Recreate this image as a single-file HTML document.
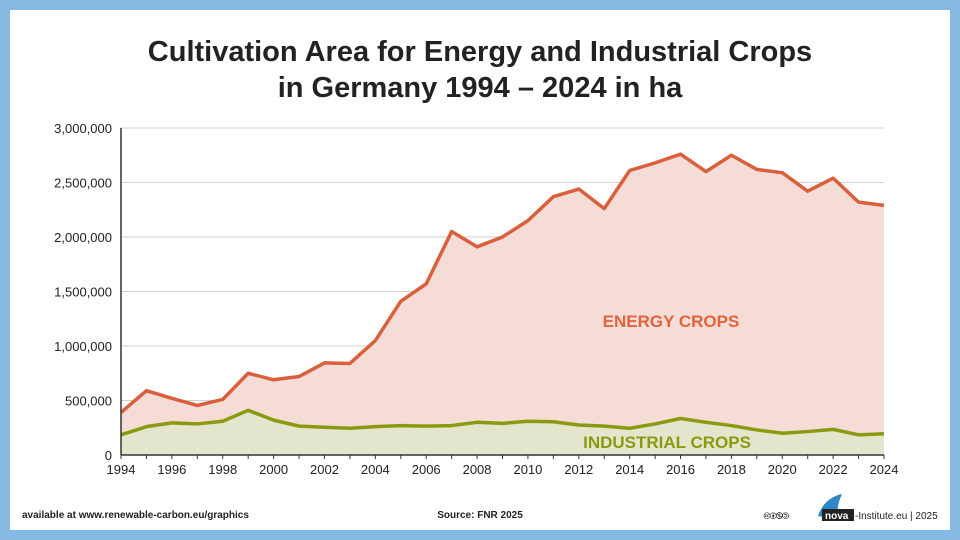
<!DOCTYPE html>
<html><head><meta charset="utf-8"><style>
body{margin:0;width:960px;height:540px;background:#85b8e3;font-family:"Liberation Sans",sans-serif;overflow:hidden}
#panel{position:absolute;left:10px;top:10px;width:940px;height:520px;background:#fff}
</style></head><body>
<div id="panel"></div>
<svg width="960" height="540" style="position:absolute;left:0;top:0">
<text x="480" y="61" text-anchor="middle" font-size="29" font-weight="bold" fill="#222">Cultivation Area for Energy and Industrial Crops</text>
<text x="480" y="97" text-anchor="middle" font-size="29" font-weight="bold" fill="#222">in Germany 1994 – 2024 in ha</text>
<g id="grid"></g><g id="areas"></g><g id="lines"></g><g id="axes"></g>
<text x="671" y="327" text-anchor="middle" font-size="17" font-weight="bold" fill="#e0643c">ENERGY CROPS</text>
<text x="667" y="448" text-anchor="middle" font-size="17" font-weight="bold" fill="#8a9a10">INDUSTRIAL CROPS</text>
<text x="22" y="518" font-size="10" font-weight="bold" fill="#222">available at www.renewable-carbon.eu/graphics</text>
<text x="480" y="518" text-anchor="middle" font-size="10" font-weight="bold" fill="#222">Source: FNR 2025</text>
<text x="764" y="519" font-size="10" fill="#222">🅭🅯🄏🄎</text>
<path d="M818 516 Q824 498 842 494 Q836 506 838 520 Z" fill="#2e86c8"/>
<rect x="822" y="509" width="32" height="12" fill="#222"/>
<text x="825" y="519" font-size="10" font-weight="bold" fill="#fff">nova</text>
<text x="855" y="519" font-size="10" fill="#222">-Institute.eu | 2025</text>
</svg>
<script>
const years=[1994,1995,1996,1997,1998,1999,2000,2001,2002,2003,2004,2005,2006,2007,2008,2009,2010,2011,2012,2013,2014,2015,2016,2017,2018,2019,2020,2021,2022,2023,2024];
const energy=[390000,590000,520000,455000,510000,750000,690000,720000,845000,840000,1050000,1410000,1570000,2050000,1910000,2000000,2150000,2370000,2440000,2260000,2610000,2680000,2760000,2600000,2750000,2620000,2590000,2420000,2540000,2320000,2290000];
const industrial=[185000,260000,295000,285000,310000,410000,320000,265000,255000,245000,260000,270000,265000,270000,300000,290000,310000,305000,275000,265000,245000,285000,335000,300000,270000,230000,200000,215000,235000,185000,195000];
const yTicks=[0,500000,1000000,1500000,2000000,2500000,3000000];
const yTickLabels=["0","500,000","1,000,000","1,500,000","2,000,000","2,500,000","3,000,000"];
const xTicks=[1994,1996,1998,2000,2002,2004,2006,2008,2010,2012,2014,2016,2018,2020,2022,2024];
const NS="http://www.w3.org/2000/svg";
const X0=121,X1=884,Y0=455,Y1=128;
const x=v=>X0+(v-1994)/30*(X1-X0);
const y=v=>Y0-v/3000000*(Y0-Y1);
function mk(p,t,a){const e=document.createElementNS(NS,t);for(const k in a)e.setAttribute(k,a[k]);document.getElementById(p).appendChild(e);return e;}
yTicks.forEach((t,i)=>{
 if(t>0){const l=mk('grid','line',{x1:X0,x2:X1,y1:y(t),y2:y(t),stroke:'#d0d0d0','stroke-width':1});
 
 }
 const tx=mk('axes','text',{x:112,y:y(t)+5,'text-anchor':'end','font-size':13,fill:'#222'});
 tx.textContent=yTickLabels[i];
 
 
});
const pts=a=>a.map((v,i)=>x(years[i])+','+y(v)).join(' ');
const base=x(years[0])+','+y(0)+' '+x(years[years.length-1])+','+y(0);
const ea=mk('areas','polygon',{points:pts(energy)+' '+x(years[years.length-1])+','+y(0)+' '+x(years[0])+','+y(0),fill:'#f5dcd6'});


const ia=mk('areas','polygon',{points:pts(industrial)+' '+x(years[years.length-1])+','+y(0)+' '+x(years[0])+','+y(0),fill:'#e3e6cc'});


const el=mk('lines','polyline',{points:pts(energy),fill:'none',stroke:'#d9603c','stroke-width':3.5,'stroke-linejoin':'round'});


const il=mk('lines','polyline',{points:pts(industrial),fill:'none',stroke:'#8a9a10','stroke-width':3.5,'stroke-linejoin':'round'});


const ax=mk('axes','line',{x1:X0,x2:X1,y1:Y0,y2:Y0,stroke:'#333','stroke-width':1.5});


const ay=mk('axes','line',{x1:X0,x2:X0,y1:Y1,y2:Y0,stroke:'#333','stroke-width':1.5});


years.forEach(v=>{const t=mk('axes','line',{x1:x(v),x2:x(v),y1:Y0,y2:Y0+4,stroke:'#333'});
 
 });
xTicks.forEach(v=>{const t=mk('axes','text',{x:x(v),y:Y0+19,'text-anchor':'middle','font-size':13,fill:'#222'});
 t.textContent=v;
 
 });
</script>
</body></html>
